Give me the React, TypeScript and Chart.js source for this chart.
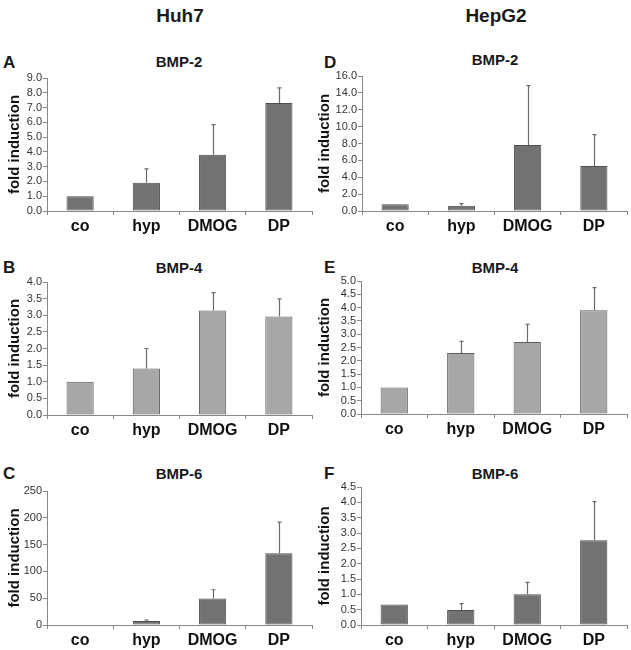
import React, { useEffect, useRef } from "react";
import { Chart, registerables } from "chart.js";

Chart.register(...registerables);

const categories = ["co", "hyp", "DMOG", "DP"];

const huh7Bmp2 = [1.0, 1.92, 3.81, 7.31];
const huh7Bmp2Err = [0, 0.93, 2.04, 1.02];
const huh7Bmp4 = [1.0, 1.4, 3.14, 2.96];
const huh7Bmp4Err = [0, 0.6, 0.54, 0.53];
const huh7Bmp6 = [1.0, 7.4, 49.6, 134];
const huh7Bmp6Err = [0, 1.9, 16.2, 58];

const hepBmp2 = [0.79, 0.63, 7.83, 5.34];
const hepBmp2Err = [0, 0.24, 7.03, 3.71];
const hepBmp4 = [1.0, 2.29, 2.71, 3.9];
const hepBmp4Err = [0, 0.44, 0.66, 0.85];
const hepBmp6 = [0.67, 0.49, 1.0, 2.76];
const hepBmp6Err = [0, 0.21, 0.39, 1.26];

const FONT = "'Liberation Sans', Arial, sans-serif";

type PanelDef = {
  values: number[];
  errs: number[];
  max: number;
  step: number;
  decimals: number;
  fill: string;
  border: string;
  canvasLeft: number;
  canvasWidth: number;
  plotLeft: number;
  plotRight: number;
  plotTop: number;
  plotBottom: number;
  titlePad: number;
};

const DARK = "#727272";
const DARK_B = "#4e4e4e";
const LIGHT = "#a7a7a7";
const LIGHT_B = "#5e5e5e";

const panels: PanelDef[] = [
  { values: huh7Bmp2, errs: huh7Bmp2Err, max: 9, step: 1, decimals: 1, fill: DARK, border: DARK_B, canvasLeft: 0, canvasWidth: 316, plotLeft: 47, plotRight: 312, plotTop: 78, plotBottom: 211, titlePad: 6 },
  { values: huh7Bmp4, errs: huh7Bmp4Err, max: 4, step: 0.5, decimals: 1, fill: LIGHT, border: LIGHT_B, canvasLeft: 0, canvasWidth: 316, plotLeft: 47, plotRight: 312, plotTop: 282, plotBottom: 415, titlePad: 6 },
  { values: huh7Bmp6, errs: huh7Bmp6Err, max: 250, step: 50, decimals: 0, fill: DARK, border: DARK_B, canvasLeft: 0, canvasWidth: 316, plotLeft: 47, plotRight: 312, plotTop: 491, plotBottom: 625, titlePad: 6 },
  { values: hepBmp2, errs: hepBmp2Err, max: 16, step: 2, decimals: 1, fill: DARK, border: DARK_B, canvasLeft: 316, canvasWidth: 315, plotLeft: 362, plotRight: 627, plotTop: 76, plotBottom: 211, titlePad: 0 },
  { values: hepBmp4, errs: hepBmp4Err, max: 5, step: 0.5, decimals: 1, fill: LIGHT, border: LIGHT_B, canvasLeft: 316, canvasWidth: 315, plotLeft: 361, plotRight: 627, plotTop: 281, plotBottom: 414, titlePad: 0 },
  { values: hepBmp6, errs: hepBmp6Err, max: 4.5, step: 0.5, decimals: 1, fill: DARK, border: DARK_B, canvasLeft: 316, canvasWidth: 315, plotLeft: 361, plotRight: 627, plotTop: 487, plotBottom: 625, titlePad: 0 },
];

const TOP_PAD = 10;
const X_AXIS_H = 32;

const errorBarPlugin = {
  id: "errorBars",
  afterDatasetsDraw(chart: any) {
    const errs: number[] = chart.options.plugins.errorBars.errs;
    const vals: number[] = chart.data.datasets[0].data;
    const meta = chart.getDatasetMeta(0);
    const y = chart.scales.y;
    const ctx = chart.ctx;
    ctx.save();
    ctx.strokeStyle = "#6a6a6a";
    ctx.lineWidth = 1.2;
    meta.data.forEach((bar: any, i: number) => {
      const e = errs[i];
      if (!e) return;
      const x = Math.round(bar.x) + 0.5;
      const y0 = y.getPixelForValue(vals[i]);
      const y1 = y.getPixelForValue(vals[i] + e);
      ctx.beginPath();
      ctx.moveTo(x, y0);
      ctx.lineTo(x, y1);
      ctx.moveTo(x - 2, y1);
      ctx.lineTo(x + 2, y1);
      ctx.stroke();
    });
    ctx.restore();
  },
};

function Panel({ p }: { p: PanelDef }) {
  const ref = useRef<HTMLCanvasElement>(null);
  const height = p.plotBottom - p.plotTop + TOP_PAD + X_AXIS_H;
  useEffect(() => {
    if (!ref.current) return;
    const yWidth = p.plotLeft - p.canvasLeft;
    const rightPad = p.canvasLeft + p.canvasWidth - p.plotRight;
    const chart = new Chart(ref.current, {
      type: "bar",
      data: {
        labels: categories,
        datasets: [
          {
            data: p.values,
            backgroundColor: p.fill,
            borderColor: p.border,
            borderWidth: 1,
            borderSkipped: false,
            barPercentage: 0.41,
            categoryPercentage: 1,
          },
        ],
      },
      plugins: [errorBarPlugin],
      options: {
        animation: false,
        responsive: false,
        maintainAspectRatio: false,
        devicePixelRatio: 1,
        layout: { padding: { top: TOP_PAD, right: rightPad, left: 0, bottom: 0 } },
        plugins: {
          legend: { display: false },
          tooltip: { enabled: false },
          title: { display: false },
          errorBars: { errs: p.errs },
        } as any,
        scales: {
          x: {
            offset: true,
            grid: {
              offset: true,
              drawOnChartArea: false,
              drawTicks: true,
              tickLength: 4,
              color: "#888",
            },
            border: { color: "#888", width: 1 },
            ticks: {
              color: "#111",
              padding: 2,
              font: { family: FONT, size: 16, weight: "bold" },
            },
            afterFit: (s: any) => {
              s.height = X_AXIS_H;
            },
          },
          y: {
            min: 0,
            max: p.max,
            grid: {
              drawOnChartArea: false,
              drawTicks: true,
              tickLength: 4,
              color: "#888",
            },
            border: { color: "#888", width: 1 },
            ticks: {
              stepSize: p.step,
              autoSkip: false,
              color: "#333",
              padding: 1,
              font: { family: FONT, size: 11 },
              callback: (v: any) => Number(v).toFixed(p.decimals),
            },
            title: {
              display: true,
              text: "fold induction",
              color: "#111",
              font: { family: FONT, size: 15, weight: "bold" },
              padding: { top: p.titlePad, bottom: 0 },
            },
            afterFit: (s: any) => {
              s.width = yWidth;
            },
          },
        },
      } as any,
    });
    return () => chart.destroy();
  }, []);
  return (
    <canvas
      ref={ref}
      width={p.canvasWidth}
      height={height}
      style={{
        position: "absolute",
        left: p.canvasLeft,
        top: p.plotTop - TOP_PAD,
        width: p.canvasWidth,
        height,
      }}
    />
  );
}

const textBase: React.CSSProperties = {
  position: "absolute",
  fontFamily: FONT,
  fontWeight: "bold",
  color: "#1a1a1a",
  whiteSpace: "nowrap",
  lineHeight: 1,
};

function Label({ text, x, y, size, center }: { text: string; x: number; y: number; size: number; center?: boolean }) {
  return (
    <div
      style={{
        ...textBase,
        left: x,
        top: y,
        fontSize: size,
        transform: center ? "translate(-50%, -50%)" : "translate(0, -50%)",
      }}
    >
      {text}
    </div>
  );
}

export default function App() {
  return (
    <div style={{ position: "absolute", left: 0, top: 0, width: 631, height: 650, background: "#fff" }}>
      <Label text="Huh7" x={180} y={15} size={19} center />
      <Label text="HepG2" x={496} y={15} size={19} center />
      <Label text="A" x={3} y={62} size={17} />
      <Label text="B" x={3} y={267} size={17} />
      <Label text="C" x={3} y={473} size={17} />
      <Label text="D" x={324} y={62} size={17} />
      <Label text="E" x={324} y={267} size={17} />
      <Label text="F" x={324} y={473} size={17} />
      <Label text="BMP-2" x={179} y={61} size={15} center />
      <Label text="BMP-4" x={179} y={267} size={15} center />
      <Label text="BMP-6" x={179} y={473} size={15} center />
      <Label text="BMP-2" x={495} y={59} size={15} center />
      <Label text="BMP-4" x={495} y={267} size={15} center />
      <Label text="BMP-6" x={495} y={473} size={15} center />
      {panels.map((p, i) => (
        <Panel key={i} p={p} />
      ))}
    </div>
  );
}
